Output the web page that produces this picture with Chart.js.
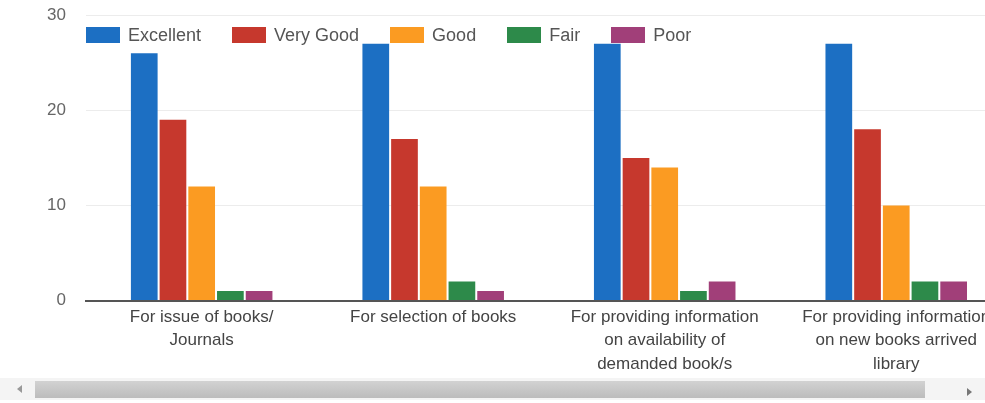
<!DOCTYPE html>
<html>
<head>
<meta charset="utf-8">
<script src="https://cdn.jsdelivr.net/npm/chart.js@4/dist/chart.umd.min.js"></script>
<style>
  html, body { margin: 0; padding: 0; background: #fff; }
  #wrap { position: relative; width: 985px; height: 403px; overflow: hidden; background: #fff; font-family: "Liberation Sans", Arial, sans-serif; }
  #chartBox { position: absolute; left: 0; top: -15px; width: 1012px; height: 388px; }
  #legend { position: absolute; left: 86px; top: 27px; display: flex; align-items: center; }
  .item { display: flex; align-items: center; margin-right: 31px; }
  .box { width: 34px; height: 16px; margin-right: 8px; }
  .lbl { font-size: 18px; color: #555; line-height: 16px; }
  #track { position: absolute; left: 0; top: 378px; width: 985px; height: 22px; background: #f4f4f4; }
  #thumb { position: absolute; left: 35px; top: 381px; width: 890px; height: 17px; background: linear-gradient(#d2d2d2, #bcbcbc); }
  .arrow { position: absolute; width: 0; height: 0; border-top: 4px solid transparent; border-bottom: 4px solid transparent; }
  #la { left: 17px; top: 385px; border-right: 5px solid #999; }
  #ra { left: 967px; top: 388px; border-left: 5px solid #777; }
</style>
</head>
<body>
<div id="wrap">
  <div id="chartBox"><canvas id="c"></canvas></div>
  <div id="legend"></div>
  <div id="track"></div>
  <div id="thumb"></div>
  <div class="arrow" id="la"></div>
  <div class="arrow" id="ra"></div>
</div>
<script>
const categories = [
  ["For issue of books/", "Journals"],
  ["For selection of books"],
  ["For providing information", "on availability of", "demanded book/s"],
  ["For providing information", "on new books arrived", "library"]
];
const seriesNames = ["Excellent", "Very Good", "Good", "Fair", "Poor"];
const excellent = [26, 27, 27, 27];
const veryGood  = [19, 17, 15, 18];
const good      = [12, 12, 14, 10];
const fair      = [1, 2, 1, 2];
const poor      = [1, 1, 2, 2];
const yTicks    = [0, 10, 20, 30];

const colors = ["#1c6fc3", "#c6382d", "#fb9b22", "#2d8a4a", "#a13f79"];
const values = [excellent, veryGood, good, fair, poor];

const datasets = seriesNames.map((n, i) => ({
  label: n,
  data: values[i],
  backgroundColor: colors[i],
  borderWidth: 0,
  barPercentage: 0.93,
  categoryPercentage: 0.62
}));

// HTML legend built from the series names and colours
const leg = document.getElementById('legend');
seriesNames.forEach((n, i) => {
  const it = document.createElement('div'); it.className = 'item';
  const b = document.createElement('div'); b.className = 'box'; b.style.background = colors[i];
  const t = document.createElement('div'); t.className = 'lbl'; t.textContent = n;
  it.appendChild(b); it.appendChild(t); leg.appendChild(it);
});

new Chart(document.getElementById('c'), {
  type: 'bar',
  data: { labels: categories, datasets },
  options: {
    responsive: true,
    maintainAspectRatio: false,
    animation: false,
    layout: { padding: { left: 27, top: 5, right: 0, bottom: 0 } },
    plugins: { legend: { display: false }, tooltip: { enabled: false } },
    scales: {
      x: {
        grid: { display: false },
        border: { display: true, color: '#555', width: 2 },
        ticks: {
          color: '#444',
          font: { family: '"Liberation Sans", Arial, sans-serif', size: 17, lineHeight: 1.38 },
          maxRotation: 0, autoSkip: false, padding: -3
        }
      },
      y: {
        min: 0, max: 30,
        afterBuildTicks: (ax) => { ax.ticks = yTicks.map(v => ({ value: v })); },
        border: { display: false },
        grid: { color: (ctx) => ctx.tick && ctx.tick.value === 0 ? 'rgba(0,0,0,0)' : '#ececec', lineWidth: 1, drawTicks: false },
        ticks: {
          color: '#666',
          font: { family: '"Liberation Sans", Arial, sans-serif', size: 17 },
          padding: 20
        }
      }
    }
  }
});
</script>
</body>
</html>
